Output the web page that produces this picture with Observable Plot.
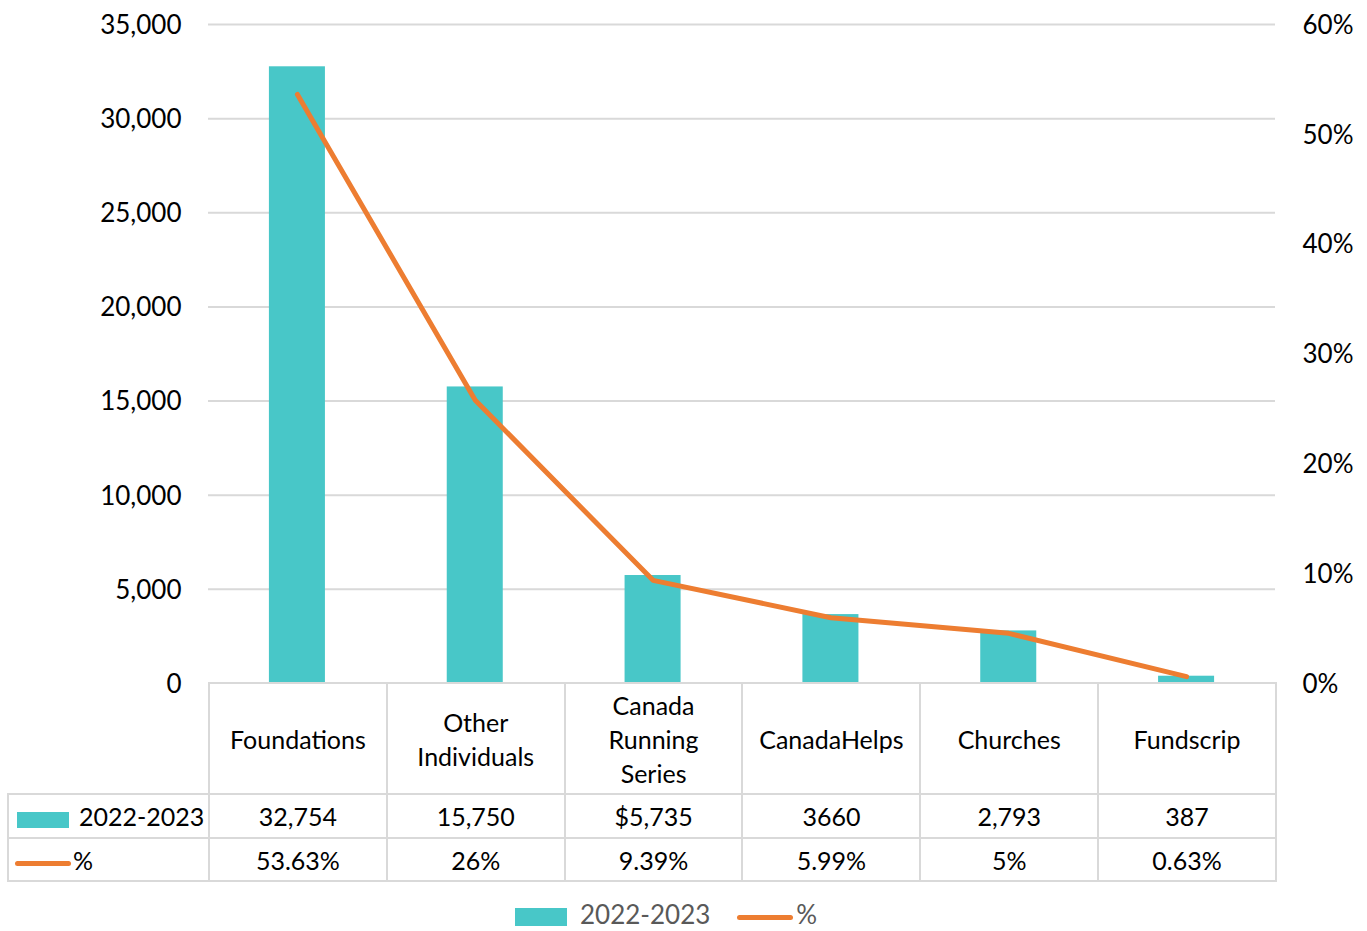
<!DOCTYPE html>
<html>
<head>
<meta charset="utf-8">
<script src="https://cdn.jsdelivr.net/npm/d3@7"></script>
<script src="https://cdn.jsdelivr.net/npm/@observablehq/plot@0.6"></script>
<style>
  html, body { margin: 0; padding: 0; background: #fff; }
  body { width: 1367px; height: 931px; position: relative; overflow: hidden; font-family: Lato, "Open Sans", sans-serif; }
  #chart { position: absolute; left: 0; top: 0; }
  #table { position: absolute; left: 7px; top: 682px; border-collapse: collapse; table-layout: fixed; font-size: 25px; color: #000; }
  #table td { border: 2px solid #d9d9d9; text-align: center; vertical-align: middle; padding: 0; line-height: 34px; white-space: nowrap; }
  #table td.corner { border-top: none; border-left: none; }
  #table td.key { text-align: left; padding-left: 6px; }
  .swatch { display: inline-block; vertical-align: middle; }
  #legend { position: absolute; left: 515px; top: 900px; font-size: 26px; color: #595959; white-space: nowrap; line-height: 28px; }
</style>
</head>
<body>
<div id="chart"></div>
<table id="table"></table>
<div id="legend"></div>
<script>
// ---- data ----
const categories = ["Foundations", "Other Individuals", "Canada Running Series", "CanadaHelps", "Churches", "Fundscrip"];
const categoryLines = [["Foundations"], ["Other", "Individuals"], ["Canada", "Running", "Series"], ["CanadaHelps"], ["Churches"], ["Fundscrip"]];
const values = [32754, 15750, 5735, 3660, 2793, 387];
const valueLabels = ["32,754", "15,750", "$5,735", "3660", "2,793", "387"];
const percents = [53.63, 25.79, 9.39, 5.99, 4.57, 0.63];
const percentLabels = ["53.63%", "26%", "9.39%", "5.99%", "5%", "0.63%"];
const leftTicks = [0, 5000, 10000, 15000, 20000, 25000, 30000, 35000];
const rightTicks = [0, 10, 20, 30, 40, 50, 60];
const seriesNames = ["2022-2023", "%"];

const teal = "#48C7C8";
const orange = "#ED7D31";
const grid = "#d9d9d9";

const yMax = 35000, pMax = 60;
const toLeft = p => p * yMax / pMax;

const rows = categories.map((c, i) => ({cat: c, value: values[i], pct: percents[i]}));

const chart = Plot.plot({
  width: 1367,
  height: 700,
  marginLeft: 208,
  marginRight: 92,
  marginTop: 24,
  marginBottom: 17,
  style: {fontFamily: "Lato, 'Open Sans', sans-serif", fontSize: "26px", color: "#000", background: "transparent", overflow: "visible"},
  x: {domain: categories, paddingInner: 0.685, paddingOuter: 0.3425, round: false, axis: null},
  y: {domain: [0, yMax], axis: null},
  marks: [
    Plot.gridY(leftTicks.slice(1), {stroke: grid, strokeOpacity: 1, strokeWidth: 2}),
    Plot.barY(rows, {x: "cat", y: "value", fill: teal}),
    Plot.line(rows, {x: "cat", y: d => toLeft(d.pct), stroke: orange, strokeWidth: 5, strokeLinecap: "round", strokeLinejoin: "round"}),
    Plot.axisY(leftTicks, {anchor: "left", label: null, tickSize: 0, tickPadding: 27, tickFormat: d3.format(","), fill: "#000", dy: 1}),
    Plot.axisY(rightTicks.map(toLeft), {anchor: "right", label: null, tickSize: 0, tickPadding: 27, tickFormat: d => Math.round(d * pMax / yMax) + "%", fill: "#000", textAnchor: "start", dy: 1})
  ]
});
document.getElementById("chart").appendChild(chart);

// ---- data table (aligned to the x band scale) ----
const xs = chart.scale("x");
const step = xs.step;
const table = d3.select("#table");
const cg = table.append("colgroup");
cg.append("col").style("width", (208 - 7) + "px");
categories.forEach(() => cg.append("col").style("width", step + "px"));
table.style("width", (208 - 7 + step * categories.length) + "px");

const head = table.append("tr").style("height", "111px");
head.append("td").attr("class", "corner");
categoryLines.forEach(lines => head.append("td").html(lines.join("<br>")));

const r1 = table.append("tr").style("height", "44px");
r1.append("td").attr("class", "key")
  .html(`<span class="swatch" style="width:52px;height:16px;background:${teal};margin-left:2px;margin-right:10px"></span>${seriesNames[0]}`);
valueLabels.forEach(v => r1.append("td").text(v));

const r2 = table.append("tr").style("height", "43px");
r2.append("td").attr("class", "key")
  .html(`<span class="swatch" style="width:56px;height:5px;border-radius:3px;background:${orange};margin-left:0px;margin-right:2px"></span>${seriesNames[1]}`);
percentLabels.forEach(v => r2.append("td").text(v));

// ---- legend ----
d3.select("#legend").html(
  `<span class="swatch" style="width:52px;height:18px;background:${teal};margin-right:13px"></span>${seriesNames[0]}` +
  `<span class="swatch" style="width:56px;height:5px;border-radius:3px;background:${orange};margin-left:27px;margin-right:3px"></span>${seriesNames[1]}`
);
</script>
</body>
</html>
